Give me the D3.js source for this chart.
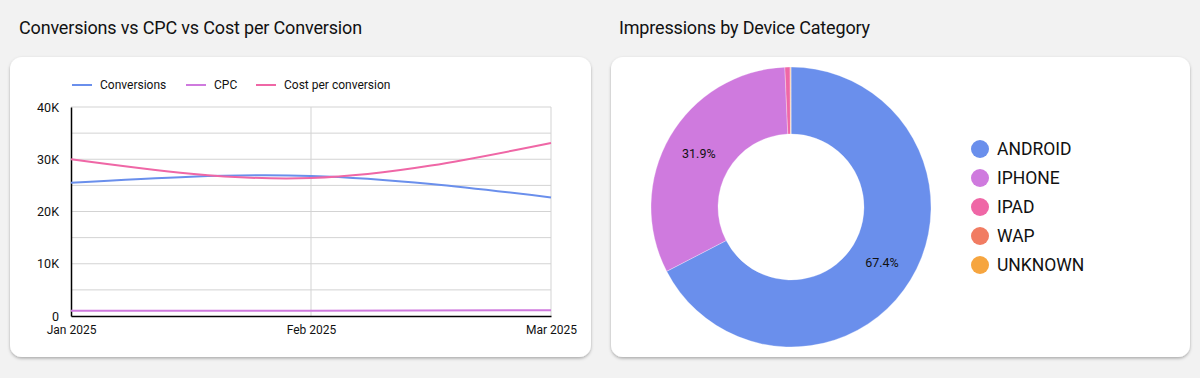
<!DOCTYPE html>
<html>
<head>
<meta charset="utf-8">
<script src="https://cdn.jsdelivr.net/npm/d3@7"></script>
<style>
  body { margin: 0; background: #f2f2f2; font-family: Roboto, "Noto Sans", sans-serif; }
  svg { display: block; }
</style>
</head>
<body>
<svg id="chart" width="1200" height="378"></svg>
<script>
// data
var months = ["Jan 2025", "Feb 2025", "Mar 2025"];
var conversions = [25500, 26800, 22700];
var cpc = [1000, 1000, 1100];
var costPerConversion = [30000, 26400, 33100];
var yTicks = [0, 10000, 20000, 30000, 40000];

var devices = ["ANDROID", "IPHONE", "IPAD", "WAP", "UNKNOWN"];
var impressionsShare = [67.4, 31.9, 0.6, 0.05, 0.05];

var seriesNames = ["Conversions", "CPC", "Cost per conversion"];
var colors = ["#6a8fec", "#cf7ade", "#ef67a6", "#f17c62", "#f6a53f"];

var svg = d3.select("#chart");

// shadow for the cards
var defs = svg.append("defs");
var f = defs.append("filter").attr("id", "shadow").attr("x", "-5%").attr("y", "-5%").attr("width", "110%").attr("height", "115%");
f.append("feDropShadow").attr("dx", 0).attr("dy", 1.5).attr("stdDeviation", 1.5).attr("flood-color", "#000").attr("flood-opacity", 0.3);

// titles
svg.append("text").attr("x", 19).attr("y", 34).attr("font-size", 18).attr("letter-spacing", -0.17).attr("fill", "#111")
  .text("Conversions vs CPC vs Cost per Conversion");
svg.append("text").attr("x", 619).attr("y", 34).attr("font-size", 18).attr("letter-spacing", -0.17).attr("fill", "#111")
  .text("Impressions by Device Category");

// cards
svg.append("rect").attr("x", 10).attr("y", 57).attr("width", 581).attr("height", 300).attr("rx", 12)
  .attr("fill", "#fff").attr("filter", "url(#shadow)");
svg.append("rect").attr("x", 611).attr("y", 57).attr("width", 579).attr("height", 300).attr("rx", 12)
  .attr("fill", "#fff").attr("filter", "url(#shadow)");

// ---------- line chart ----------
var margin = {top: 107, left: 71},
    width = 480,
    height = 209;

var g = svg.append("g").attr("transform", "translate(" + margin.left + "," + margin.top + ")");

var x = d3.scalePoint().domain(months).range([0, width]);
var y = d3.scaleLinear().domain([0, 40000]).range([height, 0]);

// horizontal grid every 5K
g.append("g").selectAll("line").data(d3.range(5000, 40001, 5000)).join("line")
  .attr("x1", 0).attr("x2", width)
  .attr("y1", d => y(d)).attr("y2", d => y(d))
  .attr("stroke", "#d3d3d3").attr("stroke-width", 1);
// vertical grid
g.append("g").selectAll("line").data(months.slice(1)).join("line")
  .attr("x1", d => x(d)).attr("x2", d => x(d))
  .attr("y1", 0).attr("y2", height)
  .attr("stroke", "#d3d3d3").attr("stroke-width", 1);

var yAxis = g.append("g")
  .call(d3.axisLeft(y).tickValues(yTicks).tickSize(0).tickPadding(12)
    .tickFormat(d => d === 0 ? "0" : d3.format("~s")(d).replace("k", "K")));
yAxis.select(".domain").attr("stroke", "#000").attr("stroke-width", 1.5);
yAxis.selectAll("text").attr("font-size", 12.5).attr("fill", "#111").attr("font-family", "Roboto");

var xAxis = g.append("g").attr("transform", "translate(0," + height + ")")
  .call(d3.axisBottom(x).tickSize(0).tickPadding(9));
xAxis.select(".domain").attr("stroke", "#000").attr("stroke-width", 1.5);
xAxis.selectAll("text").attr("font-size", 12).attr("fill", "#111").attr("font-family", "Roboto");

var line = d3.line()
  .x((d, i) => x(months[i]))
  .y(d => y(d))
  .curve(d3.curveNatural);

[conversions, cpc, costPerConversion].forEach(function(s, i) {
  g.append("path").datum(s)
    .attr("fill", "none")
    .attr("stroke", colors[i])
    .attr("stroke-width", 2)
    .attr("d", line);
});

// legend
var legX = [72, 186, 256];
var leg = svg.append("g").selectAll("g").data(seriesNames).join("g")
  .attr("transform", (d, i) => "translate(" + legX[i] + ",85)");
leg.append("line").attr("x1", 0).attr("x2", 20).attr("stroke", (d, i) => colors[i]).attr("stroke-width", 2);
leg.append("text").attr("x", 28).attr("dy", "0.35em").attr("font-size", 12).attr("fill", "#111").text(d => d);

// ---------- donut ----------
var cx = 791, cy = 207, rOuter = 140, rInner = 73;
var pie = d3.pie().sort(null).value(d => d);
var arc = d3.arc().innerRadius(rInner).outerRadius(rOuter);
var dg = svg.append("g").attr("transform", "translate(" + cx + "," + cy + ")");
var arcs = pie(impressionsShare);
dg.selectAll("path").data(arcs).join("path")
  .attr("d", arc)
  .attr("fill", (d, i) => colors[i])
  .attr("stroke", "#fff").attr("stroke-width", 0.3);
dg.selectAll("text").data(arcs.filter(d => d.data > 5)).join("text")
  .attr("transform", d => "translate(" + arc.centroid(d) + ")")
  .attr("text-anchor", "middle").attr("dy", "0.35em")
  .attr("font-size", 12.5).attr("fill", "#111")
  .text(d => d.data.toFixed(1) + "%");

var dl = svg.append("g").selectAll("g").data(devices).join("g")
  .attr("transform", (d, i) => "translate(980," + (149 + i * 29) + ")");
dl.append("circle").attr("r", 9).attr("fill", (d, i) => colors[i]);
dl.append("text").attr("x", 17).attr("dy", "0.36em").attr("font-size", 17.5).attr("fill", "#111").text(d => d);
</script>
</body>
</html>
